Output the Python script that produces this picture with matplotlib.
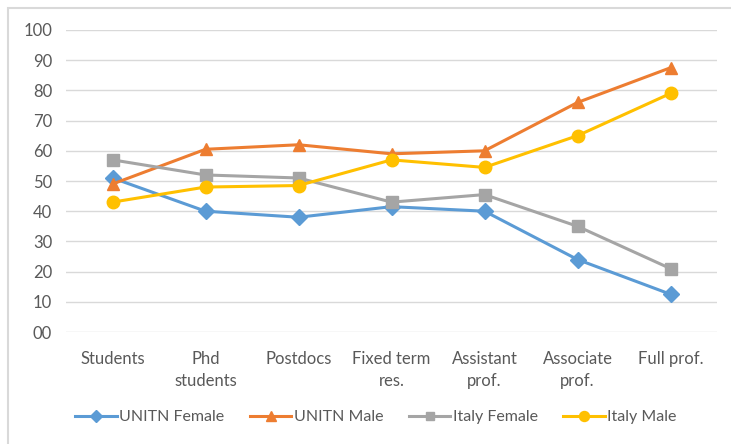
import matplotlib
matplotlib.use('Agg')
from matplotlib import pyplot as plt
from matplotlib.patches import Rectangle

categories = ['Students', 'Phd\nstudents', 'Postdocs', 'Fixed term\nres.',
              'Assistant\nprof.', 'Associate\nprof.', 'Full prof.']
unitn_female = [51, 40, 38, 41.5, 40, 24, 12.5]
unitn_male = [49, 60.5, 62, 59, 60, 76, 87.5]
italy_female = [57, 52, 51, 43, 45.5, 35, 21]
italy_male = [43, 48, 48.5, 57, 54.5, 65, 79]
yticks = [0, 10, 20, 30, 40, 50, 60, 70, 80, 90, 100]
ytick_labels = ['00', '10', '20', '30', '40', '50', '60', '70', '80', '90', '100']

plt.rcParams['font.family'] = ['Lato', 'DejaVu Sans']
text_col = '#595959'

fig = plt.figure(figsize=(7.31, 4.44), dpi=100)
fig.patches.append(Rectangle((8 / 731, -0.1), 1.1, 1 - 8 / 444 + 0.1,
                             transform=fig.transFigure, fill=False,
                             edgecolor='#d9d9d9', linewidth=1.5))
ax = fig.add_axes([66 / 731, 1 - 332 / 444, 651 / 731, 302 / 444])

x = range(len(categories))
series = [
    (unitn_female, '#5b9bd5', 'D', 8, 'UNITN Female'),
    (unitn_male, '#ed7d31', '^', 9, 'UNITN Male'),
    (italy_female, '#a5a5a5', 's', 8, 'Italy Female'),
    (italy_male, '#ffc000', 'o', 9, 'Italy Male'),
]
for vals, col, mk, ms, name in series:
    ax.plot(x, vals, color=col, marker=mk, markersize=ms, linewidth=2.2,
            label=name)

ax.set_xlim(-0.5, len(categories) - 0.5)
ax.set_ylim(0, 100)
ax.set_yticks(yticks)
ax.set_yticklabels(ytick_labels)
ax.set_xticks(list(x))
ax.set_xticklabels(categories, linespacing=1.45)
ax.grid(axis='y', color='#d9d9d9', linewidth=1)
ax.set_axisbelow(True)
for s in ax.spines.values():
    s.set_visible(False)
ax.tick_params(length=0, labelsize=12, colors=text_col)
ax.tick_params(axis='x', pad=14)
ax.tick_params(axis='y', pad=10)

fig.legend(loc='center', bbox_to_anchor=(376 / 731, 1 - 417 / 444), ncol=4,
           frameon=False, fontsize=11.5, labelcolor=text_col,
           handlelength=2.6, handletextpad=0.15, columnspacing=1.6,
           markerscale=0.8)

fig.savefig('out.png', dpi=100)
